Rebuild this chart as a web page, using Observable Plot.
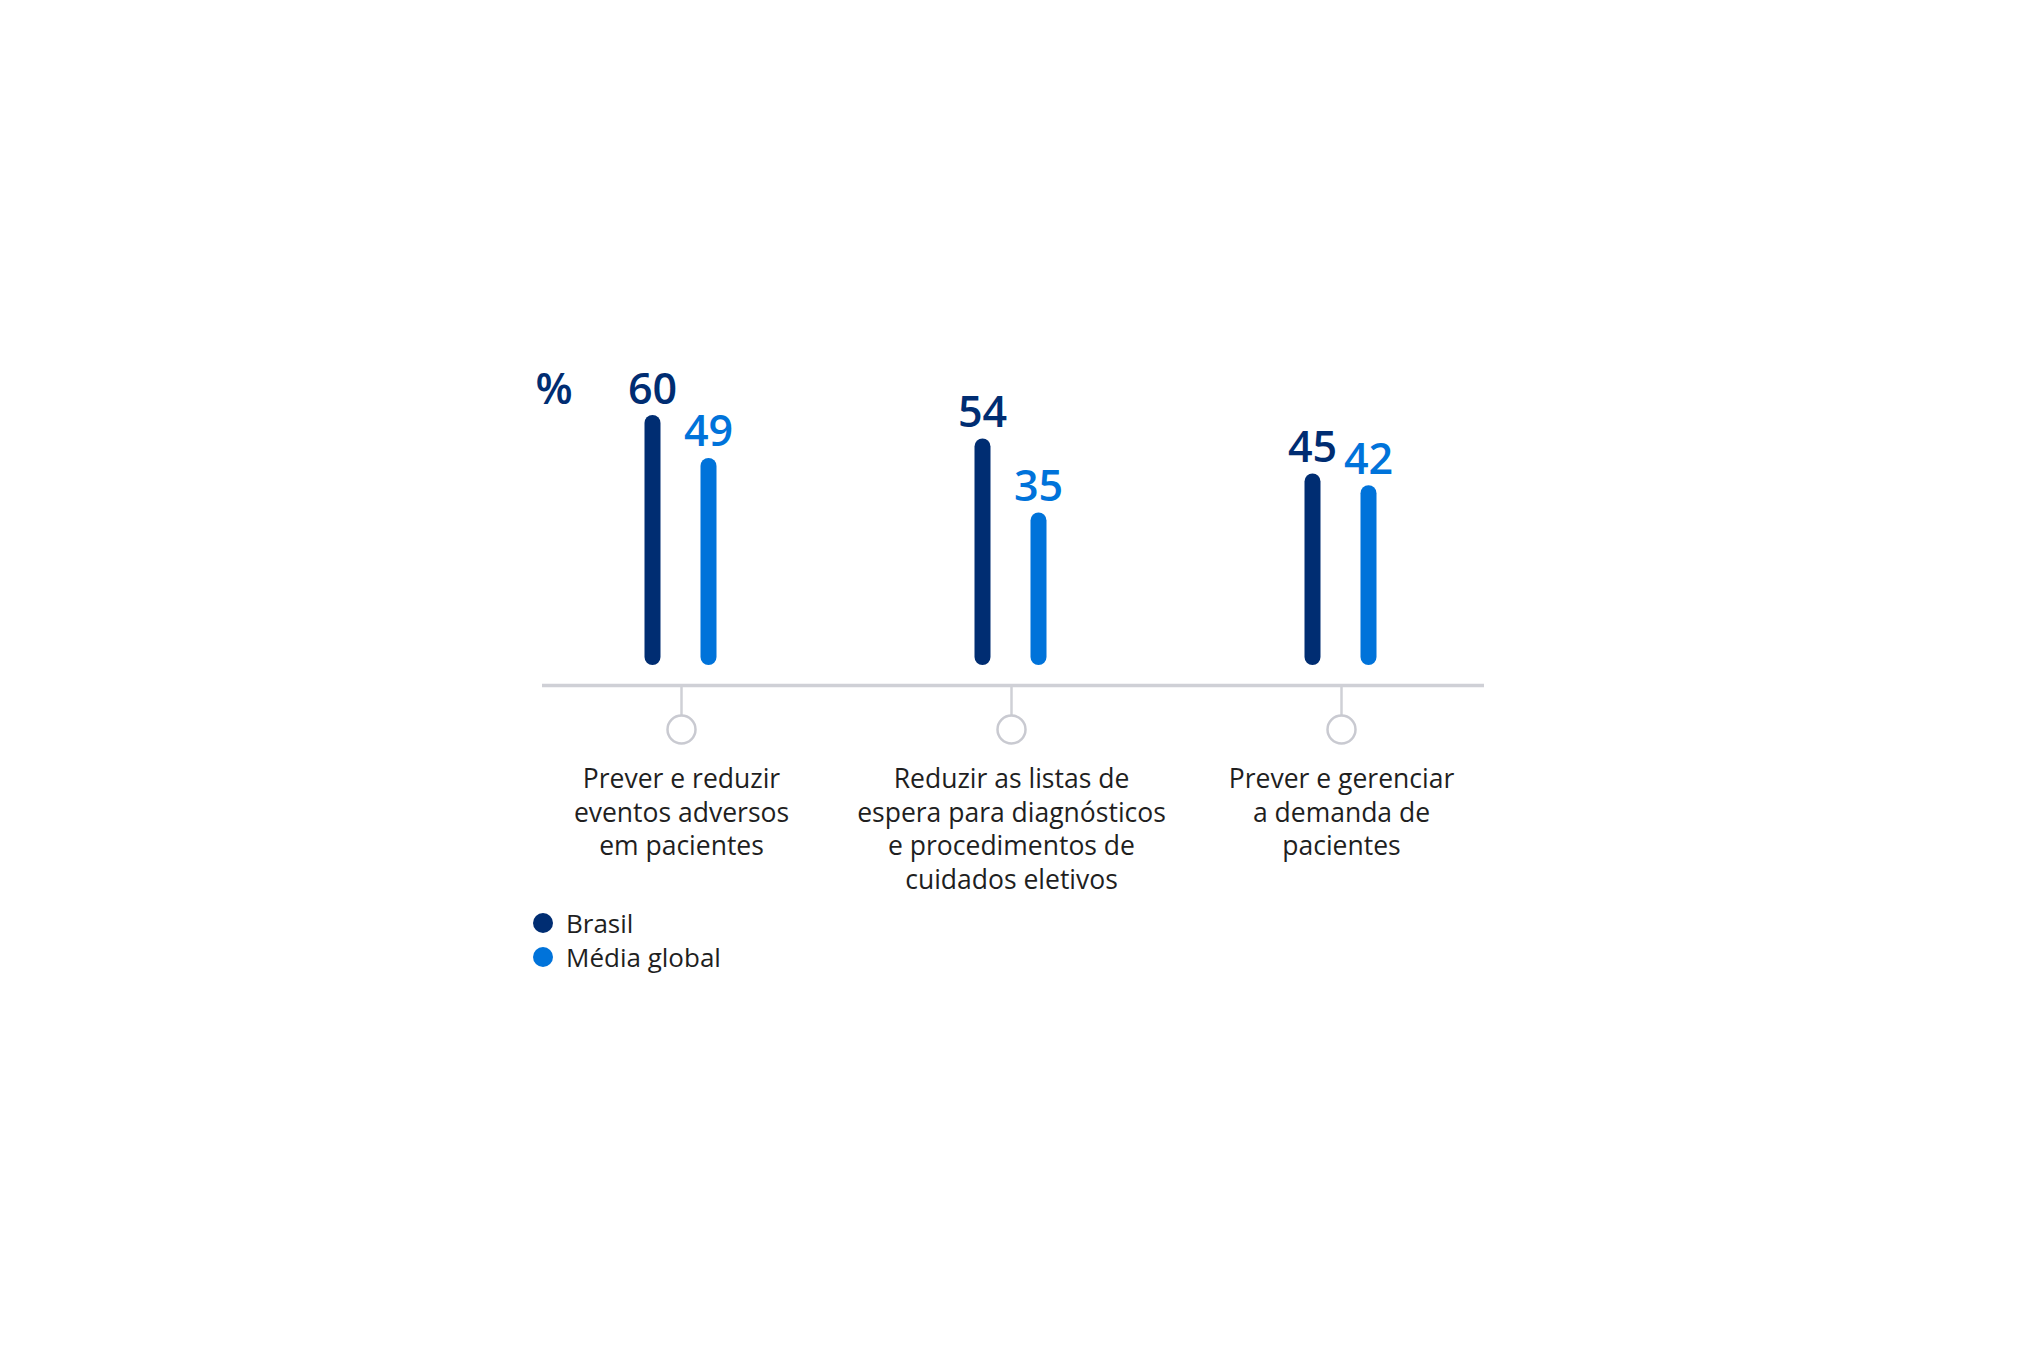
<!DOCTYPE html>
<html>
<head>
<meta charset="utf-8">
<script src="https://cdn.jsdelivr.net/npm/d3@7"></script>
<script src="https://cdn.jsdelivr.net/npm/@observablehq/plot@0.6"></script>
<style>
  html, body { margin: 0; padding: 0; background: #ffffff; }
  #wrap { position: relative; width: 2017px; height: 1346px; font-family: "Open Sans", sans-serif; }
  #legend { position: absolute; left: 533px; top: 906px; }
  .item { display: flex; align-items: center; height: 34px; font-size: 26px; color: #1f1f1f; }
  .sw { width: 20px; height: 20px; border-radius: 50%; margin-right: 13px; }
</style>
</head>
<body>
<div id="wrap"><div id="chart"></div><div id="legend"></div></div>
<script>
const categories = ["adversos", "listas", "demanda"];
const categoryLabels = [
  "Prever e reduzir\neventos adversos\nem pacientes",
  "Reduzir as listas de\nespera para diagnósticos\ne procedimentos de\ncuidados eletivos",
  "Prever e gerenciar\na demanda de\npacientes"
];
const brasil = [60, 54, 45];
const mediaGlobal = [49, 35, 42];
const seriesNames = ["Brasil", "Média global"];
const seriesColors = ["#002d72", "#0073da"];

const data = categories.map((c, i) => ({cat: c, label: categoryLabels[i], brasil: brasil[i], global: mediaGlobal[i]}));
const grey = "#cfd0d6";

const plot = Plot.plot({
  width: 2017,
  height: 1000,
  marginLeft: 516,
  marginRight: 511,
  marginTop: 423,
  marginBottom: 343,
  style: {fontFamily: "'Open Sans', sans-serif", background: "white"},
  x: {type: "point", domain: categories, padding: 0.5, axis: null},
  y: {domain: [0, 60], axis: null},
  marks: [
    Plot.ruleY([0], {dy: 28, insetLeft: 26, insetRight: 22, stroke: grey, strokeWidth: 3.5}),
    Plot.ruleX(categories, {x: d => d, y1: 0, y2: 0, dy: 28, insetBottom: -30, stroke: grey, strokeWidth: 2.5}),
    Plot.dot(categories, {x: d => d, y: 0, r: 14, dy: 72, fill: "white", stroke: "#c9cad1", strokeWidth: 2.5}),
    Plot.ruleX(data, {x: "cat", y1: 0, y2: "brasil", dx: -29, stroke: seriesColors[0], strokeWidth: 16, strokeLinecap: "round"}),
    Plot.ruleX(data, {x: "cat", y1: 0, y2: "global", dx: 27, stroke: seriesColors[1], strokeWidth: 16, strokeLinecap: "round"}),
    Plot.text(data, {x: "cat", y: "brasil", text: d => String(d.brasil), dx: -29, dy: -20, lineAnchor: "bottom", fontSize: 43, fontWeight: 600, fill: seriesColors[0]}),
    Plot.text(data, {x: "cat", y: "global", text: d => String(d.global), dx: 27, dy: -20, lineAnchor: "bottom", fontSize: 43, fontWeight: 600, fill: seriesColors[1]}),
    Plot.text(data, {x: "cat", y: 0, text: "label", dy: 106, lineAnchor: "top", fontSize: 26.5, lineHeight: 1.28, fill: "#1f1f1f"}),
    Plot.text(["%"], {frameAnchor: "top-left", dx: 19, dy: -20, textAnchor: "start", lineAnchor: "bottom", fontSize: 43, fontWeight: 600, fill: seriesColors[0]})
  ]
});
document.getElementById("chart").appendChild(plot);

const legend = document.getElementById("legend");
seriesNames.forEach((name, i) => {
  const item = document.createElement("div");
  item.className = "item";
  const sw = document.createElement("span");
  sw.className = "sw";
  sw.style.background = seriesColors[i];
  const t = document.createElement("span");
  t.textContent = name;
  item.appendChild(sw);
  item.appendChild(t);
  legend.appendChild(item);
});
</script>
</body>
</html>
